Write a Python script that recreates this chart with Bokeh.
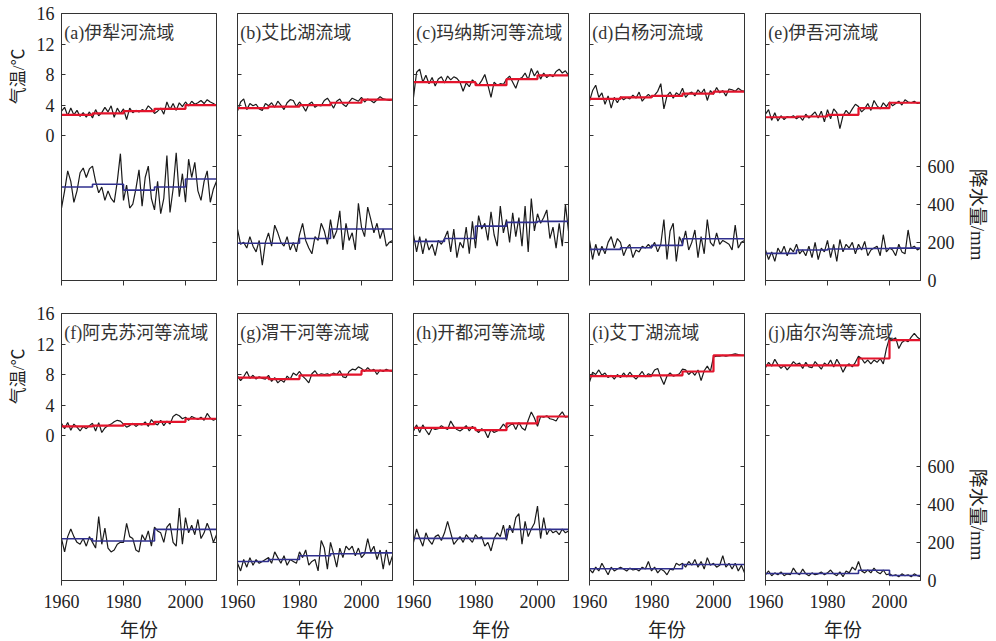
from bokeh.plotting import figure
from bokeh.models import Range1d, LinearAxis, FixedTicker, Label, Title, CustomLabelingPolicy
from bokeh.layouts import row, column
from bokeh.embed import file_html
from bokeh.resources import INLINE

years = list(range(1960, 2011))
step_edges = [1960, 1970, 1980, 1990, 2000, 2010]
tick_years = [1960, 1980, 2000]
temp_ticks = [0, 4, 8, 12, 16]
prec_ticks = [0, 200, 400, 600]

titles = ["(a)伊犁河流域", "(b)艾比湖流域", "(c)玛纳斯河等流域", "(d)白杨河流域", "(e)伊吾河流域",
          "(f)阿克苏河等流域", "(g)渭干河等流域", "(h)开都河等流域", "(i)艾丁湖流域", "(j)庙尔沟等流域"]

temp_a = [3.2, 3.7, 2.6, 3.6, 2.7, 3.3, 2.5, 3.0, 2.4, 3.1,
          2.3, 3.4, 2.6, 3.0, 3.7, 3.1, 3.9, 2.4, 3.6, 2.9,
          3.5, 2.1, 3.6, 3.0, 3.3, 3.1, 3.4, 3.2, 3.9, 3.5,
          2.9, 3.2, 3.6, 2.8, 4.4, 3.4, 4.2, 3.3, 4.3, 3.8,
          4.4, 3.9, 4.5, 4.1, 4.3, 4.6, 4.2, 4.7, 4.4, 4.2,
          3.9]
tstep_a = [2.7, 2.9, 3.2, 3.5, 4.0]
prec_a = [380, 470, 575, 520, 410, 470, 565, 590, 540, 585,
          600, 520, 460, 490, 420, 470, 430, 410, 520, 665,
          420, 500, 380, 400, 480, 580, 390, 540, 600, 430,
          370, 520, 350, 430, 655, 357, 480, 670, 440, 560,
          410, 636, 540, 620, 470, 420, 520, 575, 410, 480,
          520]
pstep_a = [490, 505, 474, 490, 532]

temp_b = [3.2, 4.4, 4.8, 3.4, 4.2, 3.9, 4.1, 3.5, 3.3, 4.2,
          3.9, 4.3, 3.7, 4.5, 4.0, 3.4, 4.3, 4.7, 4.6, 3.8,
          4.4, 3.9, 3.2, 4.1, 4.4, 3.7, 4.0, 3.9, 4.6, 4.9,
          4.3, 3.6, 4.5, 4.8, 4.1, 3.8, 4.4, 4.9, 4.7, 4.5,
          5.0, 4.4, 4.8, 4.6, 4.3, 4.7, 5.1, 4.8, 4.7, 4.6,
          4.7]
tstep_b = [3.6, 3.8, 4.0, 4.3, 4.7]
prec_b = [270, 190, 200, 170, 230, 180, 150, 210, 80, 200,
          250, 180, 290, 250, 200, 180, 230, 160, 200, 150,
          240, 300, 210, 170, 140, 230, 210, 300, 260, 190,
          320, 220, 260, 365, 160, 300, 210, 250, 160, 405,
          280, 230, 385, 320, 250, 300, 220, 270, 180, 200,
          210]
pstep_b = [195, 195, 220, 270, 270]

temp_c = [5.0, 8.3, 8.7, 7.0, 7.9, 6.8, 7.6, 6.5, 7.4, 7.7,
          6.9, 7.8, 7.3, 7.7, 7.5, 7.0, 5.8, 6.9, 6.4, 7.3,
          6.9, 6.6, 7.2, 8.0, 6.6, 5.0, 7.0, 6.6, 6.8, 6.7,
          7.4, 7.8, 7.0, 6.2, 7.4, 7.6, 8.2, 7.3, 8.8, 7.8,
          8.5, 7.4, 8.2, 7.6, 8.0, 7.7, 8.4, 8.7, 8.2, 8.5,
          7.9]
tstep_c = [7.0, 7.0, 6.6, 7.4, 7.9]
prec_c = [240, 150, 230, 140, 220, 160, 190, 130, 210, 190,
          220, 260, 150, 270, 120, 200, 170, 280, 140, 310,
          170, 340, 270, 300, 210, 360, 240, 180, 390, 250,
          320, 200, 355, 230, 330, 180, 390, 150, 430, 260,
          350, 300, 330, 370, 220, 280, 170, 300, 180, 400,
          260]
pstep_c = [205, 220, 285, 305, 310]

temp_d = [4.5, 5.9, 6.6, 5.0, 5.6, 4.1, 5.2, 3.6, 5.0, 4.3,
          5.1, 4.7, 5.0, 4.8, 5.3, 4.9, 5.7, 4.5, 5.0, 5.4,
          5.0, 5.3, 5.8, 6.8, 3.5, 5.2, 5.7, 4.9, 5.6, 5.3,
          6.2, 5.0, 5.5, 5.7, 5.2, 6.0, 5.5, 6.1, 4.6, 5.9,
          5.4, 6.3, 5.6, 5.9, 5.2, 6.1, 6.0, 5.8, 6.2, 5.9,
          5.8]
tstep_d = [4.8, 5.0, 5.2, 5.5, 5.75]
prec_d = [210, 110, 190, 130, 180, 140, 200, 230, 170, 220,
          200, 130, 170, 190, 120, 160, 150, 180, 170, 190,
          170, 200, 150, 190, 320, 110, 260, 300, 100, 230,
          190, 260, 160, 200, 265, 120, 230, 140, 320, 200,
          180, 250, 190, 210, 200, 190, 160, 290, 170, 200,
          210]
pstep_d = [163, 172, 184, 219, 219]

temp_e = [2.8, 3.4, 2.0, 3.0, 1.9, 2.6, 2.1, 2.5, 2.4, 2.6,
          2.2, 2.5, 2.0, 2.8, 2.3, 2.7, 3.1, 2.3, 3.2, 1.8,
          3.4, 2.2, 3.5, 3.0, 0.9, 2.6, 3.3, 2.8, 3.5, 4.1,
          3.8, 3.1, 3.5, 4.2, 3.3, 4.6, 3.9, 3.5, 4.3, 3.8,
          4.4, 3.9, 4.2, 4.5, 4.0, 4.7, 4.4, 4.3, 4.5, 4.2,
          4.3]
tstep_e = [2.4, 2.5, 2.7, 3.6, 4.3]
prec_e = [160, 110, 150, 100, 170, 140, 180, 130, 170, 150,
          190, 140, 160, 130, 180, 120, 200, 110, 170, 150,
          210, 120, 190, 100, 215, 150, 190, 170, 200, 140,
          190, 160, 205, 130, 160, 170, 180, 130, 240, 150,
          170, 160, 130, 190, 150, 140, 265, 170, 180, 160,
          170]
pstep_e = [142, 160, 165, 168, 170]

temp_f = [1.6, 0.9, 1.7, 0.7, 1.5, 1.1, 0.6, 1.2, 0.9, 1.3,
          1.6, 0.6, 1.7, 0.4, 1.0, 1.3, 1.5, 1.8, 2.0, 1.9,
          1.5, 1.1, 1.3, 1.6, 1.2, 1.5, 1.4, 1.8, 1.2, 2.1,
          1.6, 1.4, 2.0, 1.3, 1.9, 1.5, 2.5, 2.8, 2.6, 2.2,
          2.4, 2.0, 2.5, 2.3, 2.1, 2.4, 2.0, 2.9, 2.3, 2.0,
          2.2]
tstep_f = [1.2, 1.3, 1.5, 1.8, 2.2]
prec_f = [220, 150, 230, 270, 230, 200, 190, 220, 180, 230,
          200, 170, 335, 190, 275, 170, 150, 160, 190, 200,
          200, 300, 230, 220, 160, 150, 240, 210, 260, 180,
          280, 260, 250, 200, 280, 300, 200, 180, 380, 190,
          330, 250, 290, 240, 320, 220, 250, 300, 260, 200,
          240]
pstep_f = [219, 207, 207, 268, 268]

temp_g = [7.8, 7.2, 7.7, 8.4, 7.5, 7.9, 7.4, 7.7, 7.5, 7.4,
          7.9, 7.1, 7.6, 6.9, 7.3, 7.0, 7.8, 7.4, 8.2, 7.9,
          8.4, 7.8, 7.4, 6.9, 8.1, 8.5, 7.9, 8.1, 8.0, 8.1,
          7.9, 8.2, 8.0, 8.5, 7.7, 7.6, 8.4, 8.7, 8.6, 9.0,
          8.8, 8.4, 8.9, 8.5, 8.7, 8.0, 8.6, 8.4, 8.7, 8.5,
          8.4]
tstep_g = [7.6, 7.4, 7.9, 8.0, 8.5]
prec_g = [90, 50, 110, 70, 120, 80, 110, 90, 100, 110,
          120, 90, 150, 120, 90, 130, 80, 110, 100, 90,
          150, 120, 160, 80, 100, 110, 50, 210, 170, 60,
          200, 140, 70, 170, 120, 180, 160, 180, 130, 170,
          120, 140, 220, 150, 180, 110, 160, 60, 160, 80,
          130]
pstep_g = [100, 110, 130, 140, 145]

temp_h = [0.6, 1.4, 0.4, 1.4, 0.7, 0.1, 1.0, 0.8, 0.9, 1.3,
          1.0, 0.8, 1.9, 1.2, 0.8, 0.6, 0.9, 1.3, 0.6, 1.2,
          0.8, 0.4, 0.9, 0.6, -0.3, 0.8, 0.4, 0.6, 0.9, 1.5,
          1.0, 1.3, 1.6, 0.8, 1.7, 1.0, 0.7, 2.0, 3.1, 2.3,
          1.2, 2.5, 2.4, 2.6, 2.2, 2.1, 1.9, 2.6, 3.1, 2.4,
          2.5]
tstep_h = [1.0, 1.0, 0.7, 1.6, 2.5]
prec_h = [200, 270, 220, 180, 250, 210, 190, 230, 240, 210,
          250, 310, 250, 190, 210, 230, 200, 240, 220, 200,
          240, 220, 230, 180, 200, 155, 220, 250, 230, 290,
          210, 290, 250, 330, 350, 190, 310, 230, 270, 300,
          390, 220, 330, 240, 270, 250, 260, 240, 270, 250,
          260]
pstep_h = [221, 221, 221, 268, 268]

temp_i = [7.0, 8.3, 8.0, 8.6, 7.9, 8.2, 7.6, 7.9, 7.4, 8.0,
          7.6, 8.2, 7.7, 8.3, 7.8, 7.4, 7.9, 8.4, 7.7, 8.1,
          7.9, 8.6, 8.8, 7.6, 6.7, 7.8, 8.2, 7.8, 7.9, 8.1,
          8.7, 8.6, 8.0, 8.4, 7.9, 8.6, 7.2, 8.5, 9.1, 8.4,
          10.3, 10.4, 10.4, 10.5, 10.4, 10.5, 10.6, 10.7, 10.6, 10.5,
          10.5]
tstep_i = [7.8, 7.8, 7.9, 8.4, 10.5]
prec_i = [60, 40, 70, 50, 90, 60, 30, 70, 50, 60,
          70, 60, 50, 65, 55, 60, 50, 70, 60, 100,
          50, 70, 40, 60, 50, 30, 60, 55, 90, 80,
          90, 70, 100, 80, 110, 70, 100, 60, 120, 80,
          90, 70, 80, 130, 70, 90, 60, 90, 50, 80,
          40]
pstep_i = [62, 62, 62, 84, 84]

temp_j = [8.9, 9.6, 9.1, 10.0, 9.3, 8.8, 9.2, 8.6, 9.1, 9.7,
          9.3, 9.5, 8.8, 9.6, 9.0, 8.9, 9.7, 9.2, 8.7, 9.5,
          9.2, 9.9, 9.0, 10.0, 9.3, 8.3, 9.1, 9.4, 9.0, 9.6,
          10.4, 10.1, 9.5, 9.9, 9.4, 9.9, 9.6, 10.1, 9.4, 11.4,
          12.8, 12.6, 12.8, 11.4, 12.2, 12.5, 12.3, 12.9, 13.4, 12.9,
          12.6]
tstep_j = [9.2, 9.2, 9.2, 10.1, 12.5]
prec_j = [30, 50, 25, 40, 30, 45, 25, 35, 30, 65,
          40, 30, 60, 35, 25, 40, 30, 35, 45, 30,
          40, 55, 35, 25, 45, 20, 50, 40, 70, 55,
          100, 50, 40, 55, 40, 65, 45, 35, 55, 30,
          35, 25, 30, 20, 35, 25, 30, 20, 35, 25,
          20]
pstep_j = [37, 37, 37, 54, 26]

panels = [
    (temp_a, tstep_a, prec_a, pstep_a), (temp_b, tstep_b, prec_b, pstep_b),
    (temp_c, tstep_c, prec_c, pstep_c), (temp_d, tstep_d, prec_d, pstep_d),
    (temp_e, tstep_e, prec_e, pstep_e), (temp_f, tstep_f, prec_f, pstep_f),
    (temp_g, tstep_g, prec_g, pstep_g), (temp_h, tstep_h, prec_h, pstep_h),
    (temp_i, tstep_i, prec_i, pstep_i), (temp_j, tstep_j, prec_j, pstep_j),
]
for k, (t, ts, pr, ps) in enumerate(panels):
    assert len(t) == len(years) and len(pr) == len(years), (k, len(t), len(pr))

RED = "#e3142c"
BLUE = "#30308e"
BLACK = "#1a1a1a"
EDGE = "#333333"
TXT = "#222222"
SERIF = "Liberation Serif"
MIX = "'Liberation Serif', 'Noto Sans CJK SC'"
CJK = "Noto Sans CJK SC"


def style_axis(ax, show, tin, tout):
    ax.major_tick_in = tin
    ax.major_tick_out = tout
    ax.minor_tick_in = 0
    ax.minor_tick_out = 0
    ax.axis_line_color = EDGE
    ax.major_tick_line_color = EDGE
    ax.major_label_text_font = SERIF
    ax.major_label_text_color = TXT
    if show:
        ax.major_label_text_font_size = "18px"
        ax.major_label_standoff = 7
    else:
        ax.major_label_text_font_size = "0px"
        ax.major_label_standoff = 0
        ax.major_label_policy = CustomLabelingPolicy(code="return []")


figs = []
for i, (title, (temp, tstep, prec, pstep)) in enumerate(zip(titles, panels)):
    r, c = divmod(i, 5)
    first, last, bottom = c == 0, c == 4, r == 1
    p = figure(frame_width=155, frame_height=267,
               x_range=Range1d(years[0], years[-1]), y_range=Range1d(-19, 16),
               x_axis_type=None, y_axis_type=None,
               output_backend="svg", toolbar_location=None,
               min_border_left=58 if first else 19,
               min_border_right=72 if last else 2,
               min_border_top=13 if r == 0 else 15,
               min_border_bottom=58 if bottom else 18)
    p.extra_y_ranges = {"prec": Range1d(0, 1400)}
    p.outline_line_color = EDGE
    p.outline_line_width = 1

    xax = LinearAxis(ticker=FixedTicker(ticks=tick_years))
    style_axis(xax, bottom, 0, 5)
    if bottom:
        xax.axis_label = "年份"
        xax.axis_label_text_font = CJK
        xax.axis_label_text_font_style = "normal"
        xax.axis_label_text_font_size = "19px"
        xax.axis_label_text_color = TXT
        xax.axis_label_standoff = 4
        xax.major_label_standoff = 9
    p.add_layout(xax, "below")

    yl = LinearAxis(ticker=FixedTicker(ticks=temp_ticks))
    style_axis(yl, first, 4, 0)
    p.add_layout(yl, "left")

    yr = LinearAxis(y_range_name="prec", ticker=FixedTicker(ticks=prec_ticks))
    style_axis(yr, last, 4, 0)
    p.add_layout(yr, "right")

    if first:
        p.add_layout(Title(text="气温/℃", align="right", offset=35, standoff=12,
                           text_font=MIX, text_font_size="17px", text_font_style="normal",
                           text_color=TXT), "left")
    if last:
        p.add_layout(Title(text="降水量/mm", align="right", offset=20, standoff=18,
                           text_font=MIX, text_font_size="19px", text_font_style="normal",
                           text_color=TXT), "right")

    p.line(years, temp, color=BLACK, line_width=1.2)
    p.step(step_edges, tstep + [tstep[-1]], mode="after", color=RED, line_width=2.2)
    p.line(years, prec, y_range_name="prec", color=BLACK, line_width=1.2)
    p.step(step_edges, pstep + [pstep[-1]], mode="after", y_range_name="prec",
           color=BLUE, line_width=1.6)

    p.add_layout(Label(x=years[0] + 0.9, y=14.8, text=title, text_align="left",
                       text_baseline="top", text_font=MIX, text_font_size="18px",
                       text_color="#333333"))
    figs.append(p)

layout = column(row(*figs[:5]), row(*figs[5:]))
open("out.html", "w").write(file_html(layout, INLINE))
